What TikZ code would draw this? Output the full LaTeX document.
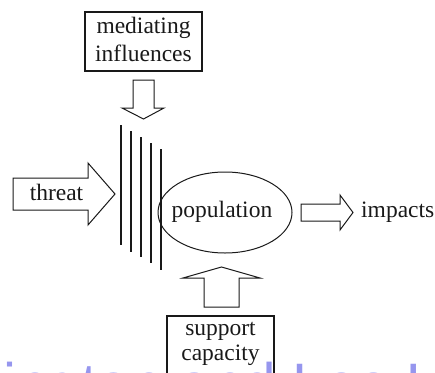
\documentclass[tikz,border=0pt]{standalone}
\usepackage{fontspec}
\setmainfont{Liberation Serif}
\newfontfamily\wmfont{Liberation Sans}
\usetikzlibrary{shapes.geometric}
\definecolor{wmblue}{RGB}{150,150,238}
\definecolor{ink}{RGB}{25,25,25}
\begin{document}
\begin{tikzpicture}[x=1pt,y=-1pt,
  lbl/.style={font=\fontsize{23.5}{26}\selectfont, inner sep=0pt, text=ink},
  boxnode/.style={draw=ink, line width=1.2pt, lbl, align=center},
  blockarrow/.style={draw=ink, line width=1pt, line join=miter, fill=white},
  barrier/.style={draw=ink, line width=2.8pt},
  popnode/.style={draw=ink, ellipse, line width=1pt, lbl}
]
\useasboundingbox (0,0) rectangle (435,372);
\clip (0,0) rectangle (435,372);

% boxes
\node[boxnode, minimum width=117pt, minimum height=59pt] (med) at (143.5,41.5) {};
\node[lbl, align=center, font=\fontsize{23.5}{28}\selectfont] (medtxt) at (143.5,39.5) {mediating\\influences};

\node[boxnode, minimum width=107pt, minimum height=59pt] (sup) at (220.5,345.5) {};
\node[lbl, align=center, font=\fontsize{23.5}{25}\selectfont] (suptxt) at (220.5,344) {support\\capacity};

% population
\node[popnode, minimum width=134pt, minimum height=81pt] (pop) at (225,212.5) {};
\node[lbl] (poptxt) at (222,211.5) {population};

% block arrows
\draw[blockarrow] (133,80) -- (154,80) -- (154,108) -- (164,108) -- (143.5,119) -- (122,108) -- (133,108) -- cycle;
\draw[blockarrow] (13,178) -- (88,178) -- (88,163) -- (115,194) -- (88,225) -- (88,210) -- (13,210) -- cycle;
\draw[blockarrow] (301,204) -- (340,204) -- (340,195) -- (353,212.5) -- (340,230) -- (340,221) -- (301,221) -- cycle;
\draw[blockarrow] (204,307) -- (204,278) -- (183,278) -- (221.5,267) -- (260,278) -- (239,278) -- (239,307) -- cycle;

% labels
\node[lbl] (thr) at (56.5,192) {threat};
\node[lbl, anchor=west] (imp) at (361,212) {impacts};

% barrier lines
\draw[barrier] (121,125) -- (121,245);
\draw[barrier] (131,131) -- (131,252);
\draw[barrier] (141,137) -- (141,257);
\draw[barrier] (151,143) -- (151,263);
\draw[barrier] (161,149) -- (161,270);

% watermark
\node[anchor=base west, inner sep=0pt, text=wmblue, font=\wmfont\fontsize{58.5}{60}\selectfont] (wm) at (3,404) {ington and Lee U};
\end{tikzpicture}
\end{document}
